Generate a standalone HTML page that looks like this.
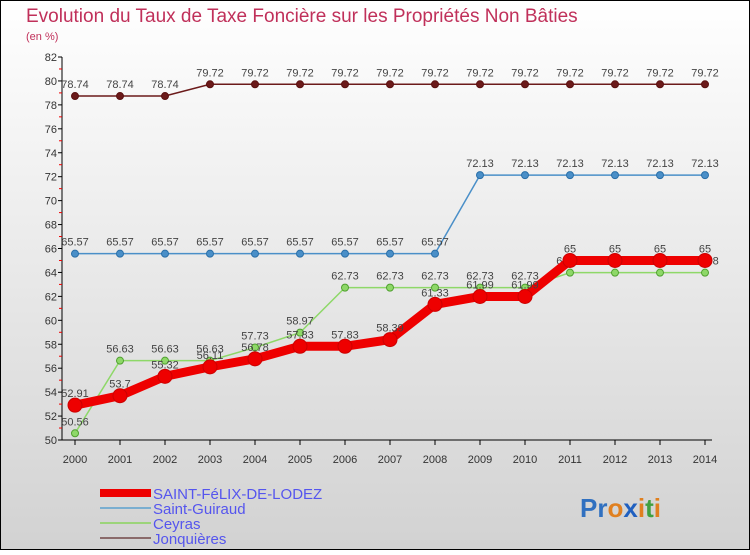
<!DOCTYPE html>
<html><head><meta charset="utf-8"><style>
body{margin:0;width:750px;height:550px;overflow:hidden;font-family:"Liberation Sans",sans-serif}
</style></head><body>
<svg id="chart" width="750" height="550" viewBox="0 0 750 550" xmlns="http://www.w3.org/2000/svg">
<defs><linearGradient id="bg" x1="0" y1="0" x2="0" y2="1"><stop offset="0" stop-color="#ffffff"/><stop offset="1" stop-color="#d2d2d2"/></linearGradient></defs>
<rect x="0.5" y="0.5" width="749" height="549" fill="url(#bg)" stroke="#000"/>
<text x="26" y="22" font-size="19" fill="#c0305a">Evolution du Taux de Taxe Foncière sur les Propriétés Non Bâties</text>
<text x="26" y="40" font-size="11" fill="#c0305a">(en %)</text>
<g id="axes"></g>
<g id="series"></g>
<g font-size="15" fill="#5555ee">
<rect x="100" y="489" width="51" height="8" fill="#ee0000"/>
<text x="153" y="499">SAINT-FéLIX-DE-LODEZ</text>
<rect x="100" y="507" width="51" height="2" fill="#7aaed0"/>
<text x="153" y="514">Saint-Guiraud</text>
<rect x="100" y="522" width="51" height="2" fill="#9cd47a"/>
<text x="153" y="529">Ceyras</text>
<rect x="100" y="537" width="51" height="2" fill="#8a6a6a"/>
<text x="153" y="544">Jonquières</text>
</g>
<g font-size="26" font-weight="bold">
<text x="580" y="517"><tspan fill="#3070c0">Pr</tspan><tspan fill="#e08020">o</tspan><tspan fill="#2060c0">x</tspan><tspan fill="#e08020">i</tspan><tspan fill="#40a040">t</tspan><tspan fill="#e08020">i</tspan></text>
</g>
</svg>
<script>
const years=[2000,2001,2002,2003,2004,2005,2006,2007,2008,2009,2010,2011,2012,2013,2014];
const yTicks=[50,52,54,56,58,60,62,64,66,68,70,72,74,76,78,80,82];
const saintFelix=[52.91,53.7,55.32,56.11,56.78,57.83,57.83,58.39,61.33,61.99,61.99,65,65,65,65];
const saintGuiraud=[65.57,65.57,65.57,65.57,65.57,65.57,65.57,65.57,65.57,72.13,72.13,72.13,72.13,72.13,72.13];
const ceyras=[50.56,56.63,56.63,56.63,57.73,58.97,62.73,62.73,62.73,62.73,62.73,63.98,63.98,63.98,63.98];
const jonquieres=[78.74,78.74,78.74,79.72,79.72,79.72,79.72,79.72,79.72,79.72,79.72,79.72,79.72,79.72,79.72];
const NS='http://www.w3.org/2000/svg';
const x=i=>75+i*45;
const y=v=>440-(v-50)*(383/32);
function mk(tag,attrs,parent){const e=document.createElementNS(NS,tag);for(const k in attrs)e.setAttribute(k,attrs[k]);parent.appendChild(e);return e;}
const ax=document.getElementById('axes');
let l=mk('line',{x1:62,y1:y(82),x2:62,y2:440,stroke:'#000'},ax);


l=mk('line',{x1:62,y1:440,x2:712,y2:440,stroke:'#000'},ax);


yTicks.forEach((t,i)=>{
  mk('line',{x1:58,y1:y(t),x2:62,y2:y(t),stroke:'#000'},ax);
  if(i<yTicks.length-1)mk('line',{x1:59,y1:y(t+1),x2:62,y2:y(t+1),stroke:'#e00'},ax);
  const tx=mk('text',{x:57,y:y(t)+4,'font-size':11,fill:'#333','text-anchor':'end'},ax);
  tx.textContent=t;
  
  
});
years.forEach((yr,i)=>{
  mk('line',{x1:x(i),y1:440,x2:x(i),y2:445,stroke:'#000'},ax);
  const tx=mk('text',{x:x(i),y:463,'font-size':11,fill:'#333','text-anchor':'middle'},ax);
  tx.textContent=yr;
  
  
});
const sg=document.getElementById('series');
function draw(vals,color,w,r,name,stroke){
  const g=mk('g',{},sg);
  
  
  const p=mk('polyline',{points:vals.map((v,i)=>x(i)+','+y(v)).join(' '),fill:'none',stroke:color,'stroke-width':w},g);
  
  
  vals.forEach((v,i)=>{
    const c=mk('circle',{cx:x(i),cy:y(v),r:r,fill:color,stroke:stroke,'stroke-width':1},g);
    
    
    const t=mk('text',{x:x(i),y:y(v)-8,'font-size':11,fill:'#444','text-anchor':'middle'},g);
    t.textContent=v;
    
    
  });
}
draw(jonquieres,'#6b1a1a',1.5,3.5,'jonquieres','#5a1010');
draw(saintGuiraud,'#4a8fc8',1.5,3.5,'saint-guiraud','#2a6fa8');
draw(ceyras,'#8ed868',1.5,3.5,'ceyras','#50a030');
draw(saintFelix,'#ee0000',9,7,'saint-felix','#cc0000');
</script>
</body></html>
